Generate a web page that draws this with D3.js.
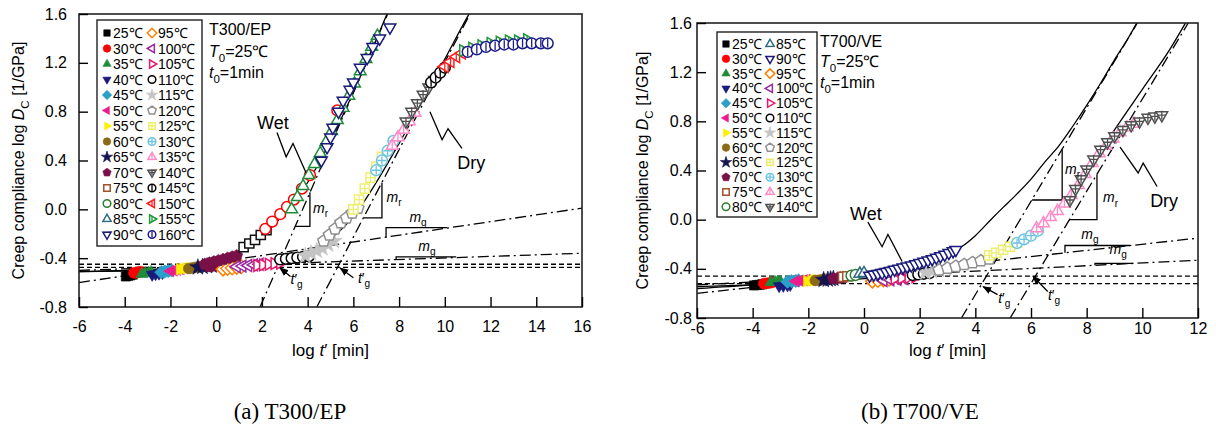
<!DOCTYPE html>
<html>
<head>
<meta charset="utf-8">
<script src="https://cdn.jsdelivr.net/npm/d3@7"></script>
<style>
  body { margin: 0; background: #fff; }
  svg text { font-family: "Liberation Sans", Arial, sans-serif; fill: #000; }
  svg text.caption { font-family: "Liberation Serif", "Times New Roman", serif; }
  .dash { fill: none; stroke: #000; stroke-width: 1.3; stroke-dasharray: 5 3; }
  .dashdot { fill: none; stroke: #000; stroke-width: 1.3; stroke-dasharray: 11 4 2 4; }
  .solid { fill: none; stroke: #000; stroke-width: 1.3; }
</style>
</head>
<body>
<svg id="fig" width="1216" height="430"></svg>
<script>
// ---- data: [marker key, log t', log Dc] ----
const t300Temps = [25, 30, 35, 40, 45, 50, 55, 60, 65, 70, 75, 80, 85, 90,
                   95, 100, 105, 110, 115, 120, 125, 130, 135, 140, 145, 150, 155, 160];
const t700Temps = [25, 30, 35, 40, 45, 50, 55, 60, 65, 70, 75, 80,
                   85, 90, 95, 100, 105, 110, 115, 120, 125, 130, 135, 140];
const xTicks300 = [-6, -4, -2, 0, 2, 4, 6, 8, 10, 12, 14, 16];
const xTicks700 = [-6, -4, -2, 0, 2, 4, 6, 8, 10, 12];
const yTicks = [-0.8, -0.4, 0.0, 0.4, 0.8, 1.2, 1.6];

const t300Low = [
  [25,-3.95,-0.55],[25,-3.85,-0.545],[25,-3.75,-0.54],[25,-3.65,-0.535],
  [30,-3.6,-0.52],[30,-3.5,-0.52],[30,-3.4,-0.515],[30,-3.3,-0.51],
  [35,-3.25,-0.53],[35,-3.1,-0.525],[35,-2.95,-0.52],[35,-2.85,-0.515],
  [40,-2.8,-0.535],[40,-2.65,-0.53],[40,-2.5,-0.525],[40,-2.35,-0.52],
  [45,-2.4,-0.515],[45,-2.25,-0.51],[45,-2.1,-0.505],[45,-1.95,-0.5],
  [50,-2.0,-0.505],[50,-1.85,-0.5],[50,-1.7,-0.495],[50,-1.55,-0.49],
  [55,-1.6,-0.49],[55,-1.45,-0.487],[55,-1.3,-0.483],[55,-1.15,-0.48],
  [60,-1.2,-0.485],[60,-1.05,-0.48],[60,-0.9,-0.475],[60,-0.75,-0.47],
  [65,-0.8,-0.475],[65,-0.6,-0.47],[65,-0.4,-0.465],[65,-0.2,-0.46]
];
const t300Dry = [
  [70,-0.3,-0.47],[70,-0.1,-0.465],[70,0.1,-0.46],[70,0.3,-0.455],
  [95,0.3,-0.49],[95,0.5,-0.485],[95,0.7,-0.48],[95,0.9,-0.475],[95,1.1,-0.47],
  [100,0.9,-0.47],[100,1.15,-0.465],[100,1.4,-0.46],[100,1.65,-0.455],[100,1.9,-0.45],
  [105,1.8,-0.46],[105,2.05,-0.455],[105,2.3,-0.45],[105,2.55,-0.445],[105,2.8,-0.44],
  [110,2.8,-0.41],[110,3.05,-0.405],[110,3.3,-0.4],[110,3.55,-0.395],[110,3.8,-0.39],[110,4.05,-0.385],
  [115,3.9,-0.38],[115,4.15,-0.36],[115,4.4,-0.34],[115,4.65,-0.32],[115,4.9,-0.29],[115,5.15,-0.26],
  [120,4.7,-0.26],[120,4.95,-0.21],[120,5.2,-0.16],[120,5.45,-0.11],[120,5.7,-0.07],[120,5.95,-0.03],[120,6.2,0.01],
  [125,6.0,0.0],[125,6.25,0.08],[125,6.5,0.17],[125,6.75,0.26],[125,7.0,0.35],[125,7.25,0.43],
  [130,7.0,0.32],[130,7.25,0.4],[130,7.5,0.48],[130,7.75,0.56],
  [135,7.7,0.52],[135,7.95,0.59],[135,8.2,0.65],[135,8.45,0.72],[135,8.7,0.79],
  [140,8.3,0.72],[140,8.55,0.8],[140,8.8,0.87],[140,9.05,0.94],[140,9.3,1.0],[140,9.55,1.06],
  [145,9.4,1.04],[145,9.6,1.08],[145,9.8,1.12],[145,10.0,1.16],
  [150,10.0,1.17],[150,10.25,1.21],[150,10.5,1.25],[150,10.75,1.28],[150,11.0,1.3],
  [155,10.8,1.3],[155,11.2,1.32],[155,11.6,1.34],[155,12.0,1.36],[155,12.4,1.37],[155,12.8,1.38],[155,13.2,1.38],[155,13.6,1.39],
  [160,11.0,1.29],[160,11.4,1.31],[160,11.8,1.33],[160,12.2,1.34],[160,12.6,1.35],[160,13.0,1.35],[160,13.4,1.36],[160,13.8,1.36],[160,14.2,1.36],[160,14.5,1.36]
];
const t300Wet = [
  [70,-0.5,-0.45],[70,-0.3,-0.44],[70,-0.1,-0.43],[70,0.1,-0.42],[70,0.3,-0.41],[70,0.5,-0.4],[70,0.7,-0.39],[70,0.9,-0.38],
  ["w75",1.2,-0.31],["w75",1.45,-0.28],["w75",1.7,-0.25],["w75",1.95,-0.21],["w75",2.2,-0.17],
  ["w80",2.15,-0.16],["w80",2.45,-0.1],["w80",2.8,-0.04],["w80",3.1,0.02],["w80",3.4,0.08],["w80",3.75,0.17],["w80",4.1,0.28],["w80",5.3,0.81],
  ["w85",3.3,0.0],["w85",3.55,0.1],["w85",3.8,0.19],["w85",4.05,0.28],["w85",4.3,0.37],["w85",4.55,0.46],["w85",4.8,0.55],
  ["w85",5.05,0.64],["w85",5.3,0.73],["w85",5.55,0.83],["w85",5.8,0.93],["w85",6.05,1.03],["w85",6.3,1.13],["w85",6.55,1.23],["w85",6.8,1.33],["w85",7.05,1.42],
  [90,4.6,0.4],[90,4.85,0.51],[90,5.0,0.59],[90,5.1,0.67],[90,5.35,0.8],[90,5.55,0.89],[90,5.85,0.98],[90,6.0,1.04],
  [90,6.3,1.16],[90,6.6,1.24],[90,6.85,1.33],[90,7.15,1.4],[90,7.6,1.49]
];

const t700Low = [
  [25,-3.95,-0.535],[25,-3.85,-0.532],[25,-3.75,-0.53],[25,-3.65,-0.525],
  [30,-3.6,-0.52],[30,-3.5,-0.518],[30,-3.4,-0.515],[30,-3.3,-0.51],
  [35,-3.35,-0.51],[35,-3.2,-0.508],[35,-3.1,-0.505],[35,-3.0,-0.505],
  [40,-3.05,-0.54],[40,-2.9,-0.537],[40,-2.75,-0.533],[40,-2.65,-0.53],
  [45,-2.75,-0.505],[45,-2.6,-0.5],[45,-2.45,-0.498],[45,-2.35,-0.495],
  [50,-2.45,-0.5],[50,-2.3,-0.497],[50,-2.15,-0.493],[50,-2.05,-0.49],
  [55,-2.05,-0.5],[55,-1.9,-0.497],[55,-1.8,-0.493],[55,-1.7,-0.49],
  [60,-1.75,-0.495],[60,-1.6,-0.492],[60,-1.5,-0.488],[60,-1.4,-0.485],
  [65,-1.45,-0.49],[65,-1.3,-0.487],[65,-1.2,-0.483],[65,-1.1,-0.48],
  [70,-1.1,-0.48],[70,-0.95,-0.477],[70,-0.85,-0.473],[70,-0.75,-0.47],
  [75,-0.75,-0.465],[75,-0.6,-0.46],
  [80,-0.45,-0.455],[80,-0.3,-0.45],
  [85,-0.15,-0.44],[85,0.0,-0.435]
];
const t700Dry = [
  [95,0.3,-0.5],[95,0.5,-0.495],[95,0.7,-0.49],[95,0.9,-0.485],
  [100,0.7,-0.495],[100,0.95,-0.49],[100,1.2,-0.485],[100,1.45,-0.48],
  [105,1.1,-0.48],[105,1.35,-0.475],[105,1.6,-0.47],[105,1.85,-0.465],
  [110,1.75,-0.45],[110,1.95,-0.445],[110,2.15,-0.44],[110,2.35,-0.435],
  [115,2.2,-0.43],[115,2.45,-0.42],[115,2.7,-0.41],[115,2.95,-0.4],
  [120,2.7,-0.41],[120,3.0,-0.395],[120,3.3,-0.38],[120,3.6,-0.365],[120,3.9,-0.35],[120,4.2,-0.335],[120,4.5,-0.32],
  [125,4.5,-0.29],[125,4.75,-0.27],[125,5.0,-0.245],[125,5.25,-0.22],[125,5.5,-0.19],
  [130,5.5,-0.19],[130,5.75,-0.16],[130,6.0,-0.13],[130,6.25,-0.09],
  [135,6.2,-0.07],[135,6.45,-0.03],[135,6.7,0.02],[135,6.95,0.07],[135,7.2,0.13],[135,7.45,0.2],[135,7.7,0.28],[135,7.95,0.37],
  [135,8.2,0.46],[135,8.45,0.54],[135,8.7,0.6],[135,8.95,0.66],[135,9.2,0.71],[135,9.45,0.75],[135,9.7,0.78],
  [140,7.4,0.16],[140,7.6,0.25],[140,7.8,0.33],[140,8.0,0.41],[140,8.25,0.49],[140,8.5,0.57],[140,8.75,0.63],
  [140,9.0,0.68],[140,9.3,0.73],[140,9.6,0.77],[140,9.9,0.8],[140,10.2,0.83],[140,10.45,0.84],[140,10.7,0.85]
];
const t700Wet = [
  [90,0.2,-0.455],[90,0.35,-0.447],[90,0.5,-0.44],[90,0.65,-0.432],[90,0.8,-0.424],[90,0.95,-0.416],
  [90,1.1,-0.407],[90,1.25,-0.398],[90,1.4,-0.389],[90,1.55,-0.38],[90,1.7,-0.371],[90,1.85,-0.362],
  [90,2.0,-0.352],[90,2.15,-0.342],[90,2.3,-0.331],[90,2.45,-0.32],[90,2.6,-0.308],[90,2.75,-0.296],
  [90,2.9,-0.284],[90,3.05,-0.27],[90,3.2,-0.256],[90,3.3,-0.245]
];

// fitted curves and asymptotes [log t', log Dc]
const t300D0 = [-0.45, -0.475];
const t300Glassy = [[[-6, -0.6], [16, 0.01]], [[-6, -0.5], [16, -0.36]]];
const t300Rubbery = [[[1.92, -0.8], [7.5, 1.6]], [[4.4, -0.8], [11.1, 1.6]]];
const t300WetFit = [[-6,-0.51],[-4,-0.5],[-2,-0.48],[-1,-0.455],[0,-0.42],[1,-0.35],[2,-0.22],[3,-0.03],[4,0.22],[5,0.56],[6,0.96],[7,1.39],[7.47,1.6]];
const t300DryFit = [[-6,-0.51],[-4,-0.505],[-2,-0.495],[0,-0.475],[1,-0.46],[2,-0.44],[3,-0.41],[4,-0.35],[5,-0.24],[6,-0.06],[7,0.22],[8,0.54],[9,0.88],[10,1.23],[11,1.58],[11.06,1.6]];
const t300Mr = [[3.45, 4.1, -0.14, 0.14], [6.44, 7.25, -0.07, 0.22]];
const t300Mg = [[7.43, 10.1, -0.228, -0.15], [7.87, 10.5, -0.41, -0.39]];

const t700D0 = [-0.46, -0.52];
const t700Glassy = [[[-6, -0.6], [12, -0.15]], [[-6, -0.53], [12, -0.33]]];
const t700Rubbery = [[[3.5, -0.8], [9.82, 1.6]], [[5.25, -0.8], [11.65, 1.6]]];
const t700WetFit = [[-6,-0.56],[-4,-0.53],[-2,-0.49],[0,-0.43],[1,-0.38],[2,-0.33],[3,-0.27],[3.5,-0.22],[4,-0.13],[4.6,0.01],[5,0.1],[5.5,0.21],[6,0.33],[6.5,0.47],[7,0.6],[7.5,0.76],[8,0.93],[8.5,1.11],[9,1.3],[9.5,1.48],[9.8,1.6]];
const t700DryFit = [[-6,-0.545],[-4,-0.53],[-2,-0.51],[0,-0.48],[1,-0.46],[2,-0.43],[3,-0.39],[4,-0.33],[5,-0.24],[6,-0.1],[7,0.1],[8,0.38],[9,0.73],[10,1.06],[11,1.39],[11.55,1.6]];
const t700Mr = [[6.04, 7.12, 0.16, 0.57], [7.38, 8.37, 0.0, 0.37]];
const t700Mg = [[7.22, 9.56, -0.27, -0.21], [8.3, 9.67, -0.371, -0.356]];

// ---- marker styles: [shape, colour, filled, inner mark] ----
const styles = {
  25: ["square", "#000", 1, ""], 30: ["circle", "#ff0000", 1, ""], 35: ["triUp", "#1e8c3a", 1, ""],
  40: ["triDown", "#1a1a7a", 1, ""], 45: ["diamond", "#2a9fc9", 1, ""], 50: ["triLeft", "#ee1a8c", 1, ""],
  55: ["triRight", "#ffee00", 1, ""], 60: ["circle", "#8a6a16", 1, ""], 65: ["star", "#141450", 1, ""],
  70: ["pentagon", "#7a1048", 1, ""], 75: ["square", "#a0522d", 0, ""], 80: ["circle", "#2e7d32", 0, ""],
  85: ["triUp", "#2a6a80", 0, ""], 90: ["triDown", "#1a1a7a", 0, ""], 95: ["diamond", "#ff8000", 0, ""],
  100: ["triLeft", "#9a2aa0", 0, ""], 105: ["triRight", "#e8186a", 0, ""], 110: ["circle", "#000", 0, ""],
  115: ["star", "#c4c4c4", 1, ""], 120: ["pentagon", "#909090", 0, ""], 125: ["square", "#eeee70", 0, "+"],
  130: ["circle", "#6cc4e0", 0, "+"], 135: ["triUp", "#ff8ac8", 0, "v"], 140: ["triDown", "#505050", 0, "+"],
  145: ["circle", "#000", 0, "v"], 150: ["triLeft", "#ff2020", 0, "v"], 155: ["triRight", "#1e9a3a", 0, "v"],
  160: ["circle", "#1a1a8a", 0, "v"],
  w75: ["square", "#111", 0, ""], w80: ["circle", "#ff0000", 0, ""], w85: ["triUp", "#1e8c3a", 0, ""]
};

const svg = d3.select("#fig");
const defs = svg.append("defs");
defs.append("marker").attr("id", "arr").attr("viewBox", "0 0 10 10")
  .attr("refX", 9).attr("refY", 5).attr("markerWidth", 7).attr("markerHeight", 7)
  .attr("orient", "auto")
  .append("path").attr("d", "M0,1L10,5L0,9Z").attr("fill", "#000");

function poly(n, R, rot) {
  const pts = d3.range(n).map(i => {
    const a = rot + i * 2 * Math.PI / n;
    return [R * Math.sin(a), -R * Math.cos(a)];
  });
  return "M" + pts.map(p => p[0].toFixed(2) + "," + p[1].toFixed(2)).join("L") + "Z";
}

function shapePath(shape, r) {
  switch (shape) {
    case "square": return poly(4, r * 1.2, Math.PI / 4);
    case "diamond": return poly(4, r * 1.25, 0);
    case "triUp": return poly(3, r * 1.25, 0);
    case "triDown": return poly(3, r * 1.25, Math.PI);
    case "triLeft": return poly(3, r * 1.25, -Math.PI / 2);
    case "triRight": return poly(3, r * 1.25, Math.PI / 2);
    case "pentagon": return poly(5, r * 1.15, 0);
    case "star": return d3.symbol(d3.symbolStar, Math.PI * r * r * 0.9)();
    default: return d3.symbol(d3.symbolCircle, Math.PI * r * r)();
  }
}

function marker(parent, key, cx, cy, r) {
  const [shape, color, filled, inner] = styles[key];
  const g = parent.append("g").attr("transform", `translate(${cx},${cy})`);
  g.append("path").attr("d", shapePath(shape, r))
    .attr("fill", filled ? color : "#fff")
    .attr("stroke", color).attr("stroke-width", filled ? 0.6 : 1.5);
  if (inner) {
    const k = r * 0.8;
    const d = inner === "+" ? `M0,${-k}V${k}M${-k},0H${k}` : `M0,${-k}V${k}`;
    g.append("path").attr("d", d).attr("stroke", color).attr("stroke-width", 1.3);
  }
}

// text with italic / subscript parts: [string, flags]
function rich(sel, parts, size) {
  let shift = 0;
  parts.forEach(([s, f]) => {
    const t = sel.append("tspan").text(s);
    const target = f.includes("s") ? size * 0.3 : 0;
    if (target !== shift) t.attr("dy", target - shift);
    shift = target;
    if (f.includes("i")) t.attr("font-style", "italic");
    if (f.includes("s")) t.attr("font-size", size * 0.72);
  });
  return sel;
}

function drawPanel(p) {
  const [L, T, R, B] = p.box;
  const x = d3.scaleLinear().domain(p.xDomain).range([L, R]);
  const y = d3.scaleLinear().domain([-0.8, 1.6]).range([B, T]);
  const line = d3.line().x(d => x(d[0])).y(d => y(d[1]));
  const curve = d3.line().curve(d3.curveMonotoneX).x(d => x(d[0])).y(d => y(d[1]));
  const g = svg.append("g");

  defs.append("clipPath").attr("id", "clip" + p.id).append("rect")
    .attr("x", L).attr("y", T).attr("width", R - L).attr("height", B - T);
  const plot = g.append("g").attr("clip-path", `url(#clip${p.id})`);

  p.d0.forEach(v => plot.append("path").attr("class", "dash")
    .attr("d", line([[p.xDomain[0], v], [p.xDomain[1], v]])));
  p.glassy.forEach(s => plot.append("path").attr("class", "dashdot").attr("d", line(s)));
  p.rubbery.forEach(s => plot.append("path").attr("class", "dashdot").attr("d", line(s)));
  [p.wetFit, p.dryFit].forEach(c => plot.append("path").attr("class", "solid").attr("d", curve(c)));
  p.mr.forEach(([x0, x1, lo, hi]) => plot.append("path").attr("class", "solid")
    .attr("d", line([[x0, lo], [x1, lo], [x1, hi]])));
  p.mg.forEach(([x0, x1, yl, yt]) => plot.append("path").attr("class", "solid")
    .attr("d", line([[x0, yl], [x0, yt], [x1, yt]])));

  [p.low, p.dry, p.wet].forEach(rows =>
    rows.forEach(r => marker(plot, r[0], x(r[1]), y(r[2]), 5.4)));

  // frame and axes
  g.append("rect").attr("x", L).attr("y", T).attr("width", R - L).attr("height", B - T)
    .attr("fill", "none").attr("stroke", "#222").attr("stroke-width", 1.6);
  const ax = g.append("g").attr("transform", `translate(0,${B})`)
    .call(d3.axisBottom(x).tickValues(p.xTicks).tickSizeInner(-10).tickSizeOuter(0)
      .tickPadding(p.xPad).tickFormat(d => String(d)));
  const ay = g.append("g").attr("transform", `translate(${L},0)`)
    .call(d3.axisLeft(y).tickValues(yTicks).tickSizeInner(-9).tickSizeOuter(0)
      .tickPadding(p.yPad).tickFormat(d => d.toFixed(1)));
  [ax, ay].forEach(a => {
    a.select(".domain").remove();
    a.selectAll("line").attr("stroke", "#000").attr("stroke-width", 1.4);
    a.selectAll("text").attr("font-size", 16).attr("fill", "#000");
  });

  // axis titles
  rich(g.append("text").attr("x", (L + R) / 2).attr("y", 356).attr("text-anchor", "middle")
    .attr("font-size", 17), [["log ", ""], ["t", "i"], ["\u2032 [min]", ""]], 17);
  rich(g.append("text").attr("transform", `translate(${p.yLabelX},${(T + B) / 2}) rotate(-90)`)
    .attr("text-anchor", "middle").attr("font-size", 16),
    [["Creep compliance log ", ""], ["D", "i"], ["C", "s"], [" [1/GPa]", ""]], 16);

  // legend
  const lg = p.legend;
  g.append("rect").attr("x", lg.x0).attr("y", lg.y0).attr("width", lg.x1 - lg.x0)
    .attr("height", lg.y1 - lg.y0).attr("fill", "#fff").attr("stroke", "#222").attr("stroke-width", 1.4);
  const half = p.temps.length / 2;
  p.temps.forEach((t, i) => {
    const col = i < half ? 0 : 1, row = i % half;
    const yy = lg.top + row * lg.step;
    marker(g, t, lg.mx[col], yy, 3.8);
    g.append("text").attr("x", lg.mx[col] + 6).attr("y", yy).attr("dy", "0.36em")
      .attr("font-size", 14).text(t + "\u2103");
  });

  // specimen info
  const info = p.info;
  g.append("text").attr("x", info.x).attr("y", info.y[0]).attr("font-size", 16).text(p.name);
  rich(g.append("text").attr("x", info.x).attr("y", info.y[1]).attr("font-size", 16),
    [["T", "i"], ["0", "s"], ["=25\u2103", ""]], 16);
  rich(g.append("text").attr("x", info.x).attr("y", info.y[2]).attr("font-size", 16),
    [["t", "i"], ["0", "s"], ["=1min", ""]], 16);

  // Wet / Dry labels with zigzag leaders
  p.tags.forEach(tg => {
    g.append("text").attr("x", x(tg.at[0])).attr("y", y(tg.at[1])).attr("font-size", 18).text(tg.text);
    g.append("path").attr("class", "solid").attr("d", line(tg.zig));
  });

  // slope labels
  p.mLabels.forEach(m => rich(g.append("text").attr("x", x(m.at[0])).attr("y", y(m.at[1]))
    .attr("font-size", 14).attr("text-anchor", m.anchor),
    [["m", "i"], [m.sub, "s"]], 14));

  // t'g labels and arrows
  p.tg.forEach(a => {
    rich(g.append("text").attr("x", x(a.at[0])).attr("y", y(a.at[1])).attr("font-size", 14),
      [["t", "i"], ["\u2032", ""], ["g", "s"]], 14);
    g.append("path").attr("class", "solid").attr("stroke-width", 1.1)
      .attr("marker-end", "url(#arr)").attr("d", line([a.from, a.to]));
  });

  svg.append("text").attr("class", "caption").attr("x", p.caption[0]).attr("y", p.caption[1])
    .attr("text-anchor", "middle").attr("font-size", 23).text(p.captionText);
}

drawPanel({
  id: "a", box: [79, 14, 582, 307], xDomain: [-6, 16], xTicks: xTicks300, xPad: 14, yPad: 12, yLabelX: 24,
  low: t300Low, dry: t300Dry, wet: t300Wet,
  d0: t300D0, glassy: t300Glassy, rubbery: t300Rubbery, wetFit: t300WetFit, dryFit: t300DryFit,
  mr: t300Mr, mg: t300Mg, temps: t300Temps,
  legend: { x0: 97, y0: 20, x1: 202, y1: 246, top: 33, step: 15.5, mx: [107, 152] },
  name: "T300/EP", info: { x: 209, y: [35, 57, 78] },
  tags: [
    { text: "Wet", at: [1.79, 0.66], zig: [[2.66, 0.63], [3.06, 0.43], [3.36, 0.54], [3.93, 0.3]] },
    { text: "Dry", at: [10.54, 0.33], zig: [[9.35, 0.8], [9.88, 0.57], [10.14, 0.66], [10.75, 0.5]] }
  ],
  mLabels: [
    { sub: "r", at: [4.24, -0.03], anchor: "start" }, { sub: "r", at: [7.45, 0.06], anchor: "start" },
    { sub: "g", at: [8.83, -0.1], anchor: "middle" }, { sub: "g", at: [9.22, -0.34], anchor: "middle" }
  ],
  tg: [
    { at: [3.25, -0.61], from: [3.25, -0.55], to: [2.79, -0.48] },
    { at: [6.2, -0.6], from: [6.0, -0.56], to: [5.42, -0.48] }
  ],
  caption: [290, 419], captionText: "(a) T300/EP"
});

drawPanel({
  id: "b", box: [697, 23, 1198, 318], xDomain: [-6, 12], xTicks: xTicks700, xPad: 5, yPad: 5, yLabelX: 648,
  low: t700Low, dry: t700Dry, wet: t700Wet,
  d0: t700D0, glassy: t700Glassy, rubbery: t700Rubbery, wetFit: t700WetFit, dryFit: t700DryFit,
  mr: t700Mr, mg: t700Mg, temps: t700Temps,
  legend: { x0: 717, y0: 32, x1: 817, y1: 217, top: 44, step: 14.8, mx: [726, 770] },
  name: "T700/VE", info: { x: 820, y: [47, 67, 88] },
  tags: [
    { text: "Wet", at: [-0.5, 0.0], zig: [[0.14, -0.02], [0.65, -0.22], [0.86, -0.12], [1.37, -0.34]] },
    { text: "Dry", at: [10.28, 0.105], zig: [[9.2, 0.59], [9.85, 0.38], [10.03, 0.46], [10.53, 0.27]] }
  ],
  mLabels: [
    { sub: "r", at: [7.22, 0.37], anchor: "start" }, { sub: "r", at: [8.59, 0.14], anchor: "start" },
    { sub: "g", at: [8.12, -0.155], anchor: "middle" }, { sub: "g", at: [9.13, -0.28], anchor: "middle" }
  ],
  tg: [
    { at: [4.82, -0.68], from: [4.8, -0.61], to: [4.28, -0.545] },
    { at: [6.61, -0.65], from: [6.6, -0.585], to: [6.07, -0.46] }
  ],
  caption: [920, 419], captionText: "(b) T700/VE"
});
</script>
</body>
</html>
